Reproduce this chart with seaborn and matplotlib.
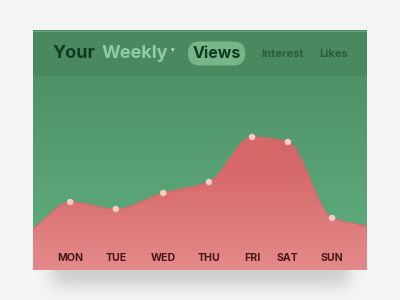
import numpy as np
import pandas as pd
import matplotlib
matplotlib.use("Agg")
import matplotlib.pyplot as plt
import seaborn as sns
from matplotlib.colors import LinearSegmentedColormap
from matplotlib.patches import Polygon

# ---------------- data ----------------
days = ["MON", "TUE", "WED", "THU", "FRI", "SAT", "SUN"]
day_pos = [0.80, 1.78, 2.80, 3.78, 4.71, 5.48, 6.43]
views = [68, 61, 77, 88, 133, 128, 52]
edge_pos = [0.0, 7.18]
edge_views = [41, 44]
title_word = "Your"
period_word = "Weekly"
tabs = ["Views", "Interest", "Likes"]

# ---------------- style ----------------
sns.set_theme(style="white")
plt.rcParams['font.family'] = ['Inter', 'DejaVu Sans']

W, H = 400, 300
fig = plt.figure(figsize=(4, 3), dpi=100, facecolor="#f4f4f4")


def fx(px):
    return px / W


def fy(py):
    return 1 - py / H


# ---------------- shadow ----------------
yy, xx = np.mgrid[0:H, 0:W]
mask = ((xx >= 52) & (xx <= 348) & (yy >= 60) & (yy <= 284)).astype(float)
sig = 8.0
k = np.exp(-0.5 * (np.arange(-28, 29) / sig) ** 2)
k /= k.sum()
blur = np.apply_along_axis(lambda r: np.convolve(r, k, mode="same"), 1, mask)
blur = np.apply_along_axis(lambda c: np.convolve(c, k, mode="same"), 0, blur)
rgba = np.zeros((H, W, 4))
rgba[..., :3] = 0.35
rgba[..., 3] = blur * 0.26
bg = fig.add_axes([0, 0, 1, 1], zorder=-1)
bg.imshow(rgba, extent=(0, W, H, 0), interpolation="bilinear")
bg.set_xlim(0, W)
bg.set_ylim(H, 0)
bg.axis("off")

# ---------------- card axes ----------------
CL, CT, CR, CB = 33, 30, 367, 270
ax = fig.add_axes([fx(CL), fy(CB), (CR - CL) / W, (CB - CT) / H], zorder=1)
XMAX = edge_pos[1]
YMAX = CB - CT          # 240
HEAD = CB - 76          # header starts here (194)

green_cmap = LinearSegmentedColormap.from_list("g", ["#60b07f", "#4f9168"])
red_cmap = LinearSegmentedColormap.from_list("r", ["#e48a8a", "#d6686b", "#d36466"])
grad = np.linspace(0, 1, 256).reshape(-1, 1)

ax.imshow(grad, extent=(0, XMAX, 0, HEAD), origin="lower", aspect="auto",
          cmap=green_cmap, zorder=0)
head_cmap = LinearSegmentedColormap.from_list("h", ["#4a8860", "#4b8a61"])
ax.imshow(grad, extent=(0, XMAX, HEAD, YMAX), origin="lower", aspect="auto",
          cmap=head_cmap, zorder=0)
ax.axhline(YMAX - 0.6, color="#6aa37d", lw=0.8, zorder=1)


# ---------------- smooth curve (monotone cubic) ----------------
def pchip(x, y, xs):
    x = np.asarray(x, float)
    y = np.asarray(y, float)
    h = np.diff(x)
    d = np.diff(y) / h
    n = len(x)
    m = np.zeros(n)
    for i in range(1, n - 1):
        if d[i - 1] * d[i] <= 0:
            m[i] = 0
        else:
            w1 = 2 * h[i] + h[i - 1]
            w2 = h[i] + 2 * h[i - 1]
            m[i] = (w1 + w2) / (w1 / d[i - 1] + w2 / d[i])
    m[0] = d[0]
    m[-1] = d[-1]
    out = np.empty_like(xs)
    for j, xv in enumerate(xs):
        i = min(np.searchsorted(x, xv, side="right") - 1, n - 2)
        i = max(i, 0)
        t = (xv - x[i]) / h[i]
        h00 = 2 * t ** 3 - 3 * t ** 2 + 1
        h10 = t ** 3 - 2 * t ** 2 + t
        h01 = -2 * t ** 3 + 3 * t ** 2
        h11 = t ** 3 - t ** 2
        out[j] = h00 * y[i] + h10 * h[i] * m[i] + h01 * y[i + 1] + h11 * h[i] * m[i + 1]
    return out


all_x = [edge_pos[0]] + day_pos + [edge_pos[1]]
all_y = [edge_views[0]] + views + [edge_views[1]]
xs = np.linspace(edge_pos[0], edge_pos[1], 600)
ys = pchip(all_x, all_y, xs)
curve = pd.DataFrame({"x": xs, "y": ys})

im = ax.imshow(grad, extent=(0, XMAX, 0, 200), origin="lower", aspect="auto",
               cmap=red_cmap, zorder=2)
verts = np.vstack([np.column_stack([xs, ys]), [[XMAX, 0], [0, 0]]])
poly = Polygon(verts, closed=True, transform=ax.transData, fc="none", ec="none")
ax.add_patch(poly)
im.set_clip_path(poly)
sns.lineplot(data=curve, x="x", y="y", ax=ax, color="#d6686b", lw=0.8,
             zorder=3, legend=False)

pts = pd.DataFrame({"day": days, "x": day_pos, "views": views})
sns.scatterplot(data=pts, x="x", y="views", ax=ax, s=22, color="#f6cbc4",
                edgecolor="none", zorder=5, legend=False)

for d, xp in zip(days, day_pos):
    ax.text(xp, CB - 258, d, ha="center", va="center", fontsize=7.6,
            fontweight="bold", color="#4b1718", zorder=6)

ax.set_xlim(0, XMAX)
ax.set_ylim(0, YMAX)
ax.axis("off")

# ---------------- header text ----------------
fig.text(fx(53), fy(53), title_word, ha="left", va="center", fontsize=13,
         fontweight="bold", color="#0f3b1e", zorder=10)
fig.text(fx(102), fy(53), period_word, ha="left", va="center", fontsize=13,
         fontweight="bold", color="#8fcca2", zorder=10)
fig.text(fx(173), fy(50), "▾", ha="center", va="center", fontsize=5,
         color="#c4e6cf", zorder=10)
fig.text(fx(216.5), fy(53.5), tabs[0], ha="center", va="center", fontsize=11.5,
         fontweight="bold", color="#0f3b1e", zorder=10,
         bbox=dict(boxstyle="round,pad=0.28,rounding_size=0.75", fc="#78b68a",
                   ec="none"))
fig.text(fx(282), fy(54), tabs[1], ha="center", va="center", fontsize=8,
         fontweight="bold", color="#2b5d3c", zorder=10)
fig.text(fx(334), fy(54), tabs[2], ha="center", va="center", fontsize=8,
         fontweight="bold", color="#2b5d3c", zorder=10)

fig.savefig("out.png", dpi=100, facecolor=fig.get_facecolor())
